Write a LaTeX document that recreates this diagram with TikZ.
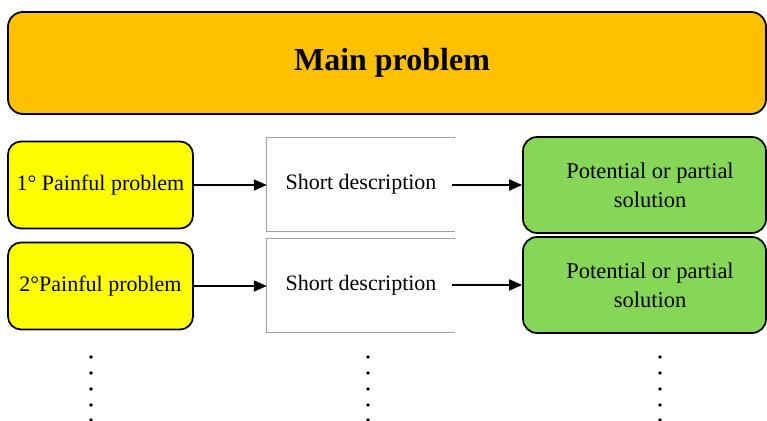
\documentclass[tikz,border=0pt]{standalone}
\usepackage{fontspec}
\setmainfont{Liberation Serif}
\usetikzlibrary{arrows.meta,calc}
\definecolor{mainfill}{RGB}{255,192,0}
\definecolor{painfill}{RGB}{255,255,0}
\definecolor{solfill}{RGB}{134,214,88}
\definecolor{descline}{RGB}{160,160,160}
\tikzset{
  mainbox/.style={draw=black, line width=1.8pt, fill=mainfill, rounded corners=15pt,
    minimum width=758pt, minimum height=102pt, inner sep=0pt,
    font=\fontsize{32}{36}\selectfont\bfseries},
  painbox/.style={draw=black, line width=1.7pt, fill=painfill, rounded corners=13pt,
    minimum width=185pt, minimum height=87pt, inner sep=0pt,
    font=\fontsize{22}{26}\selectfont},
  descbox/.style={minimum width=188pt, minimum height=93pt, inner sep=0pt,
    font=\fontsize{22}{26}\selectfont},
  solbox/.style={draw=black, line width=1.7pt, fill=solfill, rounded corners=14pt,
    minimum width=243pt, minimum height=96pt, inner sep=0pt,
    font=\fontsize{22.5}{27}\selectfont},
  link/.style={line width=1.8pt, -{Triangle[length=13pt,width=11pt]}},
  openedge/.style={draw=descline, line width=1.1pt},
  vdot/.style={fill=black, circle, inner sep=0pt, minimum size=3.8pt}
}
% two-line solution label, nudged right and down inside its box
\newcommand{\soltext}{\hspace*{11pt}\renewcommand{\arraystretch}{1.05}%
  \raisebox{0pt}[\dimexpr\height+5pt\relax][\depth]{%
    \begin{tabular}{@{}c@{}}Potential or partial\\solution\end{tabular}}}
\begin{document}
\begin{tikzpicture}[x=1pt,y=-1pt]
\useasboundingbox (0,0) rectangle (767,420);

% header
\node[mainbox] (main) at (387,63) {\hspace*{10pt}Main problem};

% first row
\node[painbox] (p1) at (100.5,185) {1° Painful problem};
\node[descbox] (d1) at (361,184.5) {Short description};
\node[solbox]  (s1) at (644.5,185) {\soltext};

% second row
\node[painbox] (p2) at (100.5,286) {2°Painful problem};
\node[descbox] (d2) at (361,285.5) {Short description};
\node[solbox]  (s2) at (644.5,285) {\soltext};

% description frames, open on the right
\foreach \d in {d1,d2}
  \draw[openedge] (\d.north east) -- (\d.north west) -- (\d.south west) -- (\d.south east);

% connectors
\coordinate (d1out) at ($(d1.east)+(-3,0.5)$);
\coordinate (d2out) at ($(d2.east)+(-3,-0.5)$);
\draw[link] (p1.east) -- (d1.west |- p1.east);
\draw[link] (p2.east) -- (d2.west |- p2.east);
\draw[link] (d1out) -- (s1.west |- d1out);
\draw[link] (d2out) -- (s2.west |- d2out);

% continuation dots
\foreach \x in {91,368,660}
  \foreach \y in {357,373,389,405,420}
    \node[vdot] at (\x,\y) {};
\end{tikzpicture}
\end{document}
